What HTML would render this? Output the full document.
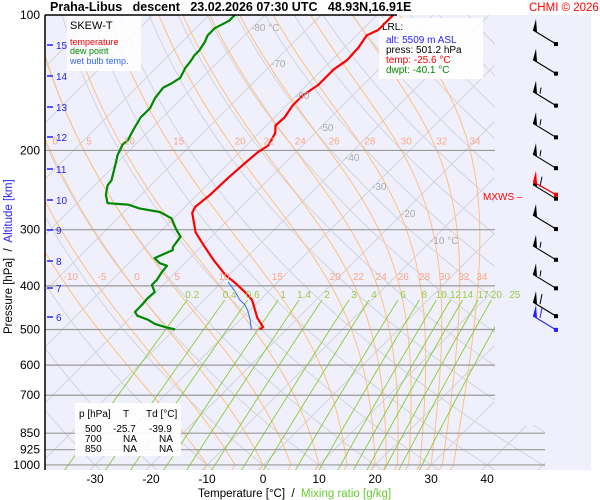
<!DOCTYPE html>
<html><head><meta charset="utf-8"><style>
body{margin:0;background:#fff;font-family:"Liberation Sans",Arial,sans-serif}
svg{display:block}
.pre{white-space:pre}
</style></head><body>
<svg id="c" width="600" height="500" viewBox="0 0 600 500" xmlns="http://www.w3.org/2000/svg" font-family="Liberation Sans, Arial, sans-serif">
<defs><clipPath id="clip"><polygon points="45,15 495,15 495,425 545,425 545,470 45,470"/></clipPath></defs>
<rect x="45" y="15" width="546" height="455" fill="#f0f0fc"/>
<g id="grid" clip-path="url(#clip)"></g>
<g id="boxes">
<g>
<rect x="67" y="15" width="74" height="56" fill="#fff" fill-opacity="0.85"/>
<text x="70" y="29" font-size="11">SKEW-T</text>
<text x="70" y="45" font-size="9" fill="#f00">temperature</text>
<text x="70" y="54" font-size="9" fill="#080">dew point</text>
<text x="70" y="64" font-size="9" fill="#36f">wet bulb temp.</text>
</g>
<g>
<rect x="379" y="18" width="104" height="61" fill="#fff" fill-opacity="0.9"/>
<text x="382" y="30" font-size="10">LRL:</text>
<text x="386" y="43" font-size="10" fill="#22f">alt: 5509 m ASL</text>
<text x="386" y="53" font-size="10">press: 501.2 hPa</text>
<text x="386" y="63" font-size="10" fill="#f00">temp: -25.6 °C</text>
<text x="386" y="73" font-size="10" fill="#080">dwpt: -40.1 °C</text>
</g>
</g>
<g id="series" clip-path="url(#clip)"></g>
<g id="overlay"></g>
<line x1="45" y1="15" x2="45" y2="470" stroke="#000" stroke-width="1.5"/>
<line x1="45" y1="15" x2="397" y2="15" stroke="#000" stroke-width="1.5"/>
<text class="pre" x="50" y="11" font-size="12.5" font-weight="bold">Praha-Libus   descent   23.02.2026 07:30 UTC   48.93N,16.91E</text>
<text x="529" y="11" font-size="11.5" fill="#f00">CHMI © 2026</text>
<g font-size="10">
<rect x="75" y="403" width="106" height="53" fill="#fff" fill-opacity="0.9"/>
<text x="79" y="417">p [hPa]</text><text x="123" y="417">T</text><text x="146" y="417">Td [°C]</text>
<text x="85" y="432">500</text><text x="113" y="432">-25.7</text><text x="149" y="432">-39.9</text>
<text x="85" y="442">700</text><text x="123" y="442">NA</text><text x="159" y="442">NA</text>
<text x="85" y="452">850</text><text x="123" y="452">NA</text><text x="159" y="452">NA</text>
</g>
<text class="pre" x="198" y="497" font-size="11.5">Temperature [°C]  /  <tspan fill="#6c3">Mixing ratio [g/kg]</tspan></text>
<text class="pre" transform="translate(12,334) rotate(-90)" font-size="11.5">Pressure [hPa]  /  <tspan fill="#22f">Altitude [km]</tspan></text>
<text x="483" y="200" font-size="10" fill="#f00">MXWS –</text>
</svg>
<script>
const pLevels=[100,200,300,400,500,600,700,850,925,1000];
const tTicks=[-30,-20,-10,0,10,20,30,40];
const altKm=[15,14,13,12,11,10,9,8,7,6];
const altY=[45,76,107,137,169,200,230,261,288,317];
const tempP=[500,494,471,430,413,396,378,350,324,304,275,267,251,230,213,202,195,183,176,169,159,151,143,132,126,118,111,108,100];
const tempT=[-24.8,-24.6,-27.3,-31.4,-34.1,-37.1,-40.7,-45.5,-50,-53.6,-57.7,-58.2,-57.7,-57.5,-57.1,-56.8,-56.1,-57.1,-58.4,-58.2,-58.9,-58.9,-58,-58,-57.3,-57.5,-58.2,-57.1,-57.1];
const dewP=[500,494,486,476,466,457,441,426,413,398,388,373,361,356,347,333,328,311,300,283,274,269,264,262,251,239,233,215,205,194,190,180,169,161,153,145,142,138,131,127,123,120,115,111,107,103,100];
const dewT=[-39.9,-42.1,-44.5,-46.4,-49.1,-50.2,-50.2,-50.4,-50.2,-52,-52,-52.5,-52.7,-54.5,-56.3,-54.5,-55,-55.5,-57.5,-60.4,-63.6,-67.9,-70.5,-74.5,-76.3,-77.7,-77.9,-80,-81.3,-82.3,-82.1,-83,-83.9,-83.9,-84.8,-85.2,-84.5,-83.9,-84.8,-85,-85.4,-85.4,-85.9,-86.6,-86.6,-85.4,-85.4];
const wbP=[500,476,453,441,430,415,404,392];
const wbT=[-26.3,-28.2,-30.4,-31.8,-33.6,-35.5,-37.1,-38.9];
const windP=[116,135,159,187,219,256,299,350,405,467,501];
const windKt=[50,50,55,55,55,60,50,55,55,60,60];
const mixW=[0.2,0.4,0.6,1,1.4,2,3,4,6,8,10,12,14,17,20,25];
const thetaW=[-10,-5,0,5,10,15,20,22,24,26,28,30,32,34];
const ns="http://www.w3.org/2000/svg";
function yOf(p){return 15+195.4*Math.log(p/100);}
function xOf(t,p){return 263+5.6*t+(465-yOf(p));}
function mk(tag,attrs,parent){const e=document.createElementNS(ns,tag);for(const k in attrs)e.setAttribute(k,attrs[k]);parent.appendChild(e);return e;}
const grid=document.getElementById('grid'),ser=document.getElementById('series'),ov=document.getElementById('overlay');
function pathFrom(ps,ts){return ps.map((p,i)=>(i?'L':'M')+xOf(ts[i],p).toFixed(1)+','+yOf(p).toFixed(1)).join('');}
for(let t=-160;t<=60;t+=10){const l=mk('line',{x1:xOf(t,1050),y1:yOf(1050),x2:xOf(t,100),y2:yOf(100),stroke:'#d4d4dc','stroke-width':1},grid);

}
for(let th=-40;th<=260;th+=10){let d='';for(let p=1050;p>=100;p-=10){const T=(th+273.15)*Math.pow(p/1000,0.286)-273.15;d+=(d?'L':'M')+xOf(T,p).toFixed(1)+','+yOf(p).toFixed(1);}
const e=mk('path',{d:d,fill:'none',stroke:'#d4d4dc','stroke-width':1},grid);

}
function es(tc){return 6.112*Math.exp(17.67*tc/(tc+243.5));}
const moist={};
for(const tw of thetaW){const pts=[];let T=tw+273.15;
 for(let p=1000;p>=100;p-=2){pts.push([p,T-273.15]);const e=es(T-273.15);const rs=0.622*e/(p-e);
  const dTdp=(1/p)*(287*T+2.5e6*rs)/(1004+2.5e6*2.5e6*rs*0.622/(287*T*T));T-=dTdp*2;}
 moist[tw]=pts;
 const d='M'+xOf(tw+0.6,1050).toFixed(1)+','+yOf(1050).toFixed(1)+pts.map(q=>'L'+xOf(q[1],q[0]).toFixed(1)+','+yOf(q[0]).toFixed(1)).join('');
 const e=mk('path',{d:d,fill:'none',stroke:'#ffc080','stroke-width':1},grid);
 
 }
function moistT(tw,p){const a=moist[tw];let best=a[0];for(const q of a)if(Math.abs(q[0]-p)<Math.abs(best[0]-p))best=q;return best[1];}
function tdW(w,p){const e=w*p/(622+w);const l=Math.log(e/6.112);return 243.5*l/(17.67-l);}
for(const w of mixW){let d='';for(let p=1050;p>=430;p-=10){d+=(d?'L':'M')+xOf(tdW(w,p),p).toFixed(1)+','+yOf(p).toFixed(1);}
 const e=mk('path',{d:d,fill:'none',stroke:'#8c3','stroke-width':0.9},grid);
 
 
 const t=mk('text',{x:xOf(tdW(w,430),430)+5,y:298,'font-size':10,fill:'#9c4','text-anchor':'middle'},ov);t.textContent=String(w);
 
 }
for(const p of pLevels){const y=yOf(p);
 if(p>100){const l=mk('line',{x1:45,y1:y,x2:p>=850?545:495,y2:y,stroke:'#999','stroke-width':1.2},grid);
 
 }
 const t=mk('text',{x:40,y:y+4,'font-size':12,'text-anchor':'end'},ov);t.textContent=p;
 
 }
for(const tw of thetaW){for(const p of [200,400]){if(p===200&&tw<0)continue;
 const x=xOf(moistT(tw,p),p)+(p===200?5:4);if(x<48||x>490)continue;
 const t=mk('text',{x:x,y:yOf(p)-6,'font-size':10,fill:'#f8a888','text-anchor':'middle'},ov);t.textContent=String(tw);
 
 }}
const isoLab=[[-80,27],[-70,63],[-60,95],[-50,127],[-40,157],[-30,186],[-20,213],[-10,240]];
for(const [t0,yy] of isoLab){const p=100*Math.exp((yy-15)/195.4);const t=mk('text',{x:xOf(t0,p)-2,y:yy+4,'font-size':10,fill:'#aaa'},ov);
 t.textContent=(t0===-80||t0===-10)?t0+' °C':String(t0);
 
 }
for(const t0 of tTicks){const t=mk('text',{x:xOf(t0,1000),y:483,'font-size':12,'text-anchor':'middle'},ov);t.textContent=t0;
 
 }
altKm.forEach((k,i)=>{const g=mk('g',{},ov);
 
 
 mk('line',{x1:47,y1:altY[i],x2:53,y2:altY[i],stroke:'#22f','stroke-width':1.5},g);
 const t=mk('text',{x:56,y:altY[i]+4,'font-size':10,fill:'#22f'},g);t.textContent=k;});
const wb=mk('path',{d:pathFrom(wbP,wbT),fill:'none',stroke:'#36f','stroke-width':1},ser);


const dp=mk('path',{d:pathFrom(dewP,dewT),fill:'none',stroke:'#080','stroke-width':2.2,'stroke-linejoin':'round'},ser);


const tl=mk('path',{d:pathFrom(tempP,tempT),fill:'none',stroke:'#f00','stroke-width':2.2,'stroke-linejoin':'round'},ser);


windP.forEach((p,i)=>{const y=yOf(p);const last=i===windP.length-1;const col=last?'#22f':'#000';
 const g=mk('g',{},ov);
 
 
 mk('line',{x1:533,y1:y-14,x2:556,y2:y,stroke:col,'stroke-width':1.1},g);
 mk('rect',{x:554,y:y-2,width:4,height:4,fill:col},g);
 let k=windKt[i],off=0;
 while(k>=50){mk('polygon',{points:(533+off)+','+(y-14)+' '+(537+off)+','+(y-12)+' '+(536+off)+','+(y-25),fill:col},g);k-=50;off+=4;}
 while(k>=10){mk('line',{x1:536+off,y1:y-12,x2:538+off,y2:y-22,stroke:col,'stroke-width':1},g);k-=10;off+=3;}
 if(k>=5)mk('line',{x1:536+off,y1:y-12,x2:537+off,y2:y-18,stroke:col,'stroke-width':1},g);
 if(i===5){mk('line',{x1:533,y1:y-17,x2:556,y2:y-4,stroke:'#f00','stroke-width':1.2},g);mk('polygon',{points:'533,'+(y-17)+' 537,'+(y-15)+' 536,'+(y-28),fill:'#f00'},g);mk('rect',{x:554,y:y-6,width:4,height:4,fill:'#f00'},g);}
});
</script>
</body></html>
